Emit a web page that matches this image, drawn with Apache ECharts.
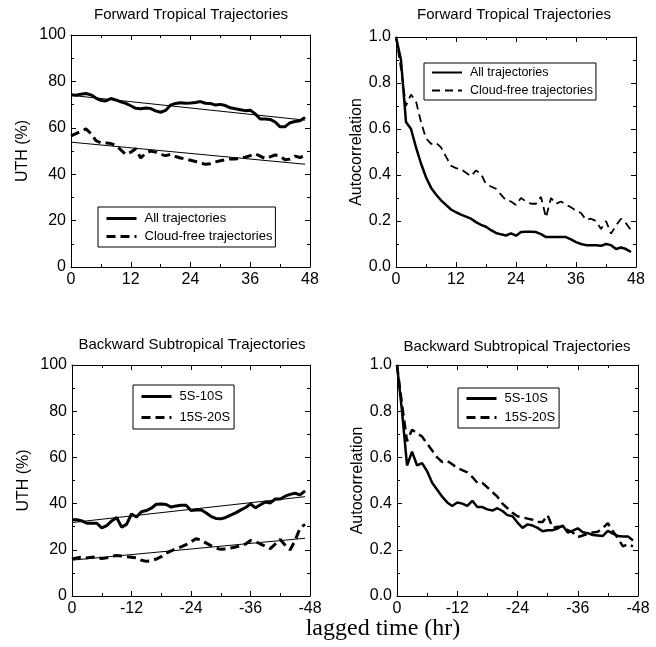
<!DOCTYPE html>
<html>
<head>
<meta charset="utf-8">
<script src="https://cdn.jsdelivr.net/npm/echarts@6/dist/echarts.min.js"></script>
<style>html,body{margin:0;padding:0;background:#fff}#c{width:656px;height:647px}</style>
</head>
<body>
<div id="c"></div>
<script>
// ---- data ----
const hours = [0,1,2,3,4,5,6,7,8,9,10,11,12,13,14,15,16,17,18,19,20,21,22,23,24,25,26,27,28,29,30,31,32,33,34,35,36,37,38,39,40,41,42,43,44,45,46,47];
const xTicksFwd = [0,12,24,36,48];
const xTicksBwd = [0,-12,-24,-36,-48];

// Forward tropical, UTH (%)
const uthFwdAll = [74.2,74,74.5,74.8,74.2,72.8,71.8,71.6,72.6,72,71.2,70.5,69.5,68.4,68.2,68.5,68.3,67.3,66.7,67.5,69.8,70.5,70.8,70.6,70.7,70.9,71.3,70.6,70.5,69.8,70.1,69.6,68.6,68.2,67.8,67.4,67.6,66,63.8,63.8,63.6,62.5,60.4,60.5,62.2,62.7,63,64.5];
const uthFwdClear = [56.5,57.5,58.5,59.5,57.5,54.5,53.5,53.5,53.2,52.5,50.5,48.5,49.5,51,47,49,50,49.5,48.5,48,48.5,47.6,47,46.5,46,45.5,44.8,44.3,44.5,45.3,45.8,46.2,46.6,46.5,47,47.3,48,48.8,47.8,46.7,47.5,48.3,47.8,46.2,46.5,47.8,47.2,48];
const trendHours = [0,47];
const trendFwdAll = [74,63.3];
const trendFwdClear = [53.8,44.3];

// Forward tropical, autocorrelation
const acFwdAll = [1.0,0.9,0.63,0.6,0.52,0.45,0.39,0.345,0.315,0.29,0.27,0.25,0.238,0.228,0.219,0.21,0.195,0.183,0.175,0.16,0.148,0.142,0.137,0.146,0.136,0.152,0.153,0.153,0.152,0.143,0.13,0.13,0.13,0.13,0.13,0.12,0.108,0.1,0.095,0.095,0.095,0.092,0.1,0.095,0.078,0.085,0.078,0.065];
const acFwdClear = [1.0,0.86,0.70,0.75,0.72,0.63,0.56,0.535,0.54,0.52,0.48,0.44,0.43,0.425,0.41,0.395,0.42,0.405,0.36,0.35,0.34,0.315,0.29,0.285,0.27,0.3,0.285,0.275,0.275,0.305,0.215,0.3,0.275,0.285,0.27,0.26,0.245,0.235,0.205,0.21,0.2,0.165,0.2,0.145,0.18,0.21,0.19,0.16];

// Backward subtropical, UTH (%)
const uthBwdN = [33,33,32.5,31.5,31.5,31.5,29.5,30.5,32.5,34,29.8,31,35.5,34.2,36.5,37,38,39.7,39.8,39.6,38.5,39,39.3,39.3,37,37.2,37.3,36,34.5,33.6,33.4,34,35,36,37.2,38.3,39.8,38.2,39.5,40.7,40.3,42,42,43.2,44,44.5,43.8,45.5];
const uthBwdS = [16,16.5,16.8,16.5,16.8,17,16.2,16.5,17.2,17.5,17.3,17,16.8,16.5,15.5,15,15.3,16,17,18.5,19.5,20.5,21.3,22.2,23.5,24.8,24.3,23,21.8,20.8,20.2,20.3,20.8,21.2,21.8,22.5,24,23.6,22.5,21.6,20.5,22.5,24.5,22,20,24,29.5,31];
const trendBwdN = [31.8,43];
const trendBwdS = [15.5,25];

// Backward subtropical, autocorrelation
const acBwdN = [1.0,0.8,0.565,0.625,0.565,0.575,0.54,0.49,0.46,0.43,0.405,0.39,0.405,0.4,0.39,0.412,0.385,0.385,0.375,0.37,0.38,0.368,0.35,0.345,0.318,0.295,0.31,0.305,0.295,0.28,0.285,0.285,0.292,0.305,0.275,0.283,0.293,0.276,0.272,0.264,0.262,0.26,0.282,0.27,0.26,0.258,0.258,0.24];
const acBwdS = [1.0,0.83,0.67,0.72,0.705,0.69,0.66,0.63,0.6,0.58,0.585,0.57,0.555,0.545,0.535,0.515,0.49,0.49,0.47,0.45,0.43,0.4,0.38,0.36,0.345,0.34,0.335,0.33,0.32,0.32,0.35,0.295,0.3,0.3,0.285,0.275,0.255,0.262,0.268,0.275,0.278,0.295,0.315,0.28,0.25,0.215,0.225,0.215];

// ---- chart ----
const FONT = 'Liberation Sans, Arial, Helvetica, sans-serif';
const pts = (xs, ys, sign) => xs.map((h, i) => [sign * h, ys[i]]);

const grids = [
  {left: 71, top: 35, width: 239, height: 232},
  {left: 396, top: 37, width: 240, height: 230},
  {left: 72, top: 365, width: 238, height: 231},
  {left: 397, top: 365, width: 241, height: 231}
];

const tickBase = {inside: true, length: 5, lineStyle: {color: '#000', width: 1}};
const minorBase = {show: true, splitNumber: 2, length: 3, lineStyle: {color: '#000', width: 1}};
const lineBase = {show: true, onZero: false, lineStyle: {color: '#000', width: 1}};
const labelBase = {fontFamily: FONT, fontSize: 16, color: '#000'};

const xAxes = [], yAxes = [];
grids.forEach((g, i) => {
  const bwd = i >= 2;
  const xa = {type: 'value', gridIndex: i, min: bwd ? -48 : 0, max: bwd ? 0 : 48, interval: 12, inverse: bwd,
    axisLine: lineBase, axisTick: tickBase, minorTick: minorBase, splitLine: {show: false}};
  xAxes.push(Object.assign({}, xa, {position: 'bottom', axisLabel: Object.assign({margin: 5}, labelBase)}));
  xAxes.push(Object.assign({}, xa, {position: 'top', axisLabel: {show: false}}));
  const ac = (i % 2) === 1;
  const ya = {type: 'value', gridIndex: i, min: 0, max: ac ? 1 : 100, interval: ac ? 0.2 : 20,
    axisLine: lineBase, axisTick: tickBase, minorTick: minorBase, splitLine: {show: false}};
  yAxes.push(Object.assign({}, ya, {position: 'left',
    name: ac ? 'Autocorrelation' : 'UTH (%)', nameLocation: 'middle', nameGap: ac ? 27 : 40,
    nameTextStyle: {fontFamily: FONT, fontSize: 16, color: '#000'},
    axisLabel: Object.assign({margin: 5, formatter: ac ? (v => v.toFixed(1)) : (v => String(v))}, labelBase)}));
  yAxes.push(Object.assign({}, ya, {position: 'right', axisLabel: {show: false}}));
});

function line(name, idx, data, width, dash) {
  return {name: name, type: 'line', xAxisIndex: idx * 2, yAxisIndex: idx * 2, data: data,
    symbol: 'none', smooth: false, silent: true, z: 3, color: '#000',
    itemStyle: {color: '#000'},
    lineStyle: {color: '#000', width: width, type: dash || 'solid'}};
}

const series = [
  line('All trajectories|0', 0, pts(hours, uthFwdAll, 1), 3),
  line('Cloud-free trajectories|0', 0, pts(hours, uthFwdClear, 1), 3, [9, 5]),
  line('trend a', 0, pts(trendHours, trendFwdAll, 1), 1),
  line('trend b', 0, pts(trendHours, trendFwdClear, 1), 1),
  line('All trajectories|1', 1, pts(hours, acFwdAll, 1), 2.5),
  line('Cloud-free trajectories|1', 1, pts(hours, acFwdClear, 1), 1.8, [8, 5]),
  line('5S-10S|2', 2, pts(hours, uthBwdN, -1), 3),
  line('15S-20S|2', 2, pts(hours, uthBwdS, -1), 3, [9, 5]),
  line('trend c', 2, pts(trendHours, trendBwdN, -1), 1),
  line('trend d', 2, pts(trendHours, trendBwdS, -1), 1),
  line('5S-10S|3', 3, pts(hours, acBwdN, -1), 2.5),
  line('15S-20S|3', 3, pts(hours, acBwdS, -1), 2.5, [9, 5])
];

function legend(names, left, top, fs, gap, pad, lw) {
  return {data: names, left: left, top: top, orient: 'vertical', itemWidth: 30, itemHeight: 12, itemGap: gap,
    padding: pad, borderColor: '#000', borderWidth: 1, backgroundColor: '#fff', selectedMode: false,
    itemStyle: {opacity: 0},
    lineStyle: {width: lw},
    formatter: n => n.split('|')[0],
    textStyle: {fontFamily: FONT, fontSize: fs, color: '#000', padding: [0, 0, 0, 3]}};
}

const titleStyle = {fontFamily: FONT, fontSize: 15, fontWeight: 'normal', color: '#000'};
const option = {
  animation: false,
  backgroundColor: '#fff',
  title: [
    {text: 'Forward Tropical Trajectories', left: 191, top: 7, textAlign: 'center', textStyle: titleStyle, padding: 0},
    {text: 'Forward Tropical Trajectories', left: 514, top: 7, textAlign: 'center', textStyle: titleStyle, padding: 0},
    {text: 'Backward Subtropical Trajectories', left: 192, top: 337, textAlign: 'center', textStyle: titleStyle, padding: 0},
    {text: 'Backward Subtropical Trajectories', left: 517, top: 339, textAlign: 'center', textStyle: titleStyle, padding: 0},
    {text: 'lagged time (hr)', left: 383, top: 617, textAlign: 'center', padding: 0,
     textStyle: {fontFamily: 'Liberation Serif, Times New Roman, serif', fontSize: 24, fontWeight: 'normal', color: '#000'}}
  ],
  grid: grids,
  xAxis: xAxes,
  yAxis: yAxes,
  legend: [
    legend(['All trajectories|0', 'Cloud-free trajectories|0'], 98, 207, 13, 5, [5, 3, 4, 7], 3),
    legend(['All trajectories|1', 'Cloud-free trajectories|1'], 424, 63, 12.5, 5, [3, 3, 3, 7], 2),
    legend(['5S-10S|2', '15S-20S|2'], 133, 385, 13, 8, [5, 4, 5, 7], 3),
    legend(['5S-10S|3', '15S-20S|3'], 458, 388, 13, 6, [4, 4, 4, 7], 3)
  ],
  series: series
};
echarts.init(document.getElementById('c'), null, {renderer: 'canvas'}).setOption(option);
</script>
</body>
</html>
